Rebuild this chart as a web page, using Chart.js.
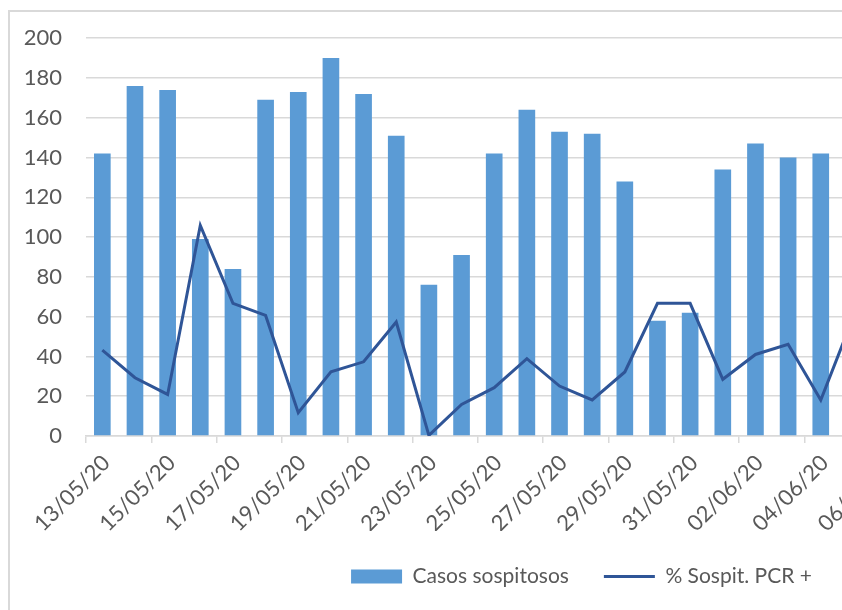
<!DOCTYPE html>
<html>
<head>
<meta charset="utf-8">
<script src="https://cdn.jsdelivr.net/npm/chart.js@4/dist/chart.umd.min.js"></script>
<style>
  html, body { margin: 0; padding: 0; background: #fff; overflow: hidden; width: 842px; height: 610px; }
  #frame { position: absolute; left: 8px; top: 10px; width: 1200px; height: 700px;
           border-left: 2px solid #d9d9d9; border-top: 2px solid #d9d9d9; }
  #chart { position: absolute; left: -10px; top: 1px; }
</style>
</head>
<body>
<div id="frame"></div>
<canvas id="chart" width="1183" height="609"></canvas>
<script>
// dates 13/05/20 .. 14/06/20 (only up to 05/06 is visible in the picture)
const labels = [
  "13/05/20","14/05/20","15/05/20","16/05/20","17/05/20","18/05/20","19/05/20","20/05/20",
  "21/05/20","22/05/20","23/05/20","24/05/20","25/05/20","26/05/20","27/05/20","28/05/20",
  "29/05/20","30/05/20","31/05/20","01/06/20","02/06/20","03/06/20","04/06/20","05/06/20",
  "06/06/20","07/06/20","08/06/20","09/06/20","10/06/20","11/06/20","12/06/20","13/06/20","14/06/20"
];
const casosSospitosos = [
  142, 176, 174, 99, 84, 169, 173, 190,
  172, 151, 76, 91, 142, 164, 153, 152,
  128, 58, 62, 134, 147, 140, 142, null,
  null, null, null, null, null, null, null, null, null
];
const pctSospitPCR = [
  43.2, 29.3, 20.9, 105.9, 66.7, 60.6, 11.7, 32.3,
  37.3, 57.3, 0.3, 15.9, 24.3, 38.9, 25.1, 18.1,
  32.2, 66.7, 66.7, 28.5, 41.0, 46.1, 18.1, 60,
  null, null, null, null, null, null, null, null, null
];
const yTicks = { min: 0, max: 200, step: 20 };

const textColor = "#595959";
const gridColor = "#d9d9d9";
const font = { family: "Lato", size: 22 };
const legendFont = { family: "Lato", size: 21 };

const ctx = document.getElementById("chart").getContext("2d");
const chart = new Chart(ctx, {
  type: "bar",
  data: {
    labels: labels,
    datasets: [
      {
        type: "bar",
        label: "Casos sospitosos",
        data: casosSospitosos,
        backgroundColor: "#5b9bd5",
        borderWidth: 0,
        categoryPercentage: 1,
        barPercentage: 0.51,
        order: 1
      },
      {
        type: "line",
        label: "% Sospit. PCR +",
        data: pctSospitPCR,
        borderColor: "#2f5597",
        backgroundColor: "#2f5597",
        borderWidth: 3,
        pointRadius: 0,
        tension: 0,
        order: 0
      }
    ]
  },
  options: {
    responsive: false,
    animation: false,
    layout: { autoPadding: false, padding: { top: 26, bottom: 13, left: 0, right: 0 } },
    plugins: {
      tooltip: { enabled: false },
      legend: {
        position: "bottom",
        labels: {
          color: textColor,
          font: legendFont,
          usePointStyle: true,
          pointStyleWidth: 51,
          boxWidth: 51,
          boxHeight: 14,
          padding: 35,
          sort: (a, b) => a.datasetIndex - b.datasetIndex,
          generateLabels: (c) => {
            const items = Chart.defaults.plugins.legend.labels.generateLabels(c);
            items.forEach(it => {
              it.pointStyle = it.datasetIndex === 0 ? "rect" : "line";
              if (it.datasetIndex === 0) it.lineWidth = 0;
            });
            return items;
          }
        }
      }
    },
    scales: {
      x: {
        afterFit: (s) => { s.height = 95; },
        grid: {
          offset: true,
          drawOnChartArea: false,
          tickLength: 7,
          lineWidth: 1.5,
          color: (c) => (c.index % 2 === 0 ? gridColor : "rgba(0,0,0,0)")
        },
        border: { display: true, color: gridColor, width: 1.5 },
        ticks: {
          color: textColor,
          font: font,
          autoSkip: false,
          minRotation: 45,
          maxRotation: 45,
          padding: 7,
          labelOffset: 4,
          callback: function (v, i) { return i % 2 === 0 ? this.getLabelForValue(v) : ""; }
        }
      },
      y: {
        min: yTicks.min,
        max: yTicks.max,
        afterFit: (s) => { s.width = 96; },
        grid: { color: gridColor, lineWidth: 1.5, drawTicks: false },
        border: { display: false },
        ticks: { stepSize: yTicks.step, color: textColor, font: font, padding: 24 }
      }
    }
  }
});
</script>
</body>
</html>
